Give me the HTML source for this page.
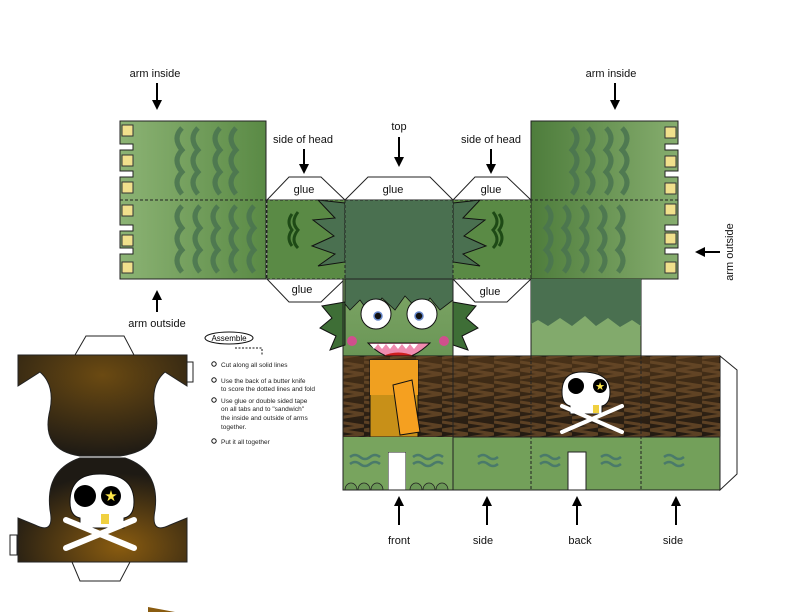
<!DOCTYPE html>
<html><head><meta charset="utf-8"><style>
html,body{margin:0;padding:0;background:#fff;}
svg{display:block;font-family:"Liberation Sans",sans-serif;}
</style></head><body>
<svg width="792" height="612" viewBox="0 0 792 612" xmlns="http://www.w3.org/2000/svg">
<defs>
<linearGradient id="arm" x1="0" x2="1" y1="0" y2="0"><stop offset="0" stop-color="#8cb374"/><stop offset="1" stop-color="#5a8a45"/></linearGradient>
<linearGradient id="armR" x1="0" x2="1" y1="0" y2="0"><stop offset="0" stop-color="#4e7d3c"/><stop offset="1" stop-color="#86ad6e"/></linearGradient>
<linearGradient id="face" x1="0" x2="0" y1="0" y2="1"><stop offset="0" stop-color="#7ea666"/><stop offset="1" stop-color="#6a9656"/></linearGradient>
<radialGradient id="hat" cx="0.5" cy="0.2" r="0.8"><stop offset="0" stop-color="#6b4a12"/><stop offset="1" stop-color="#1e1a14"/></radialGradient>
<radialGradient id="hat2" cx="0.6" cy="0.85" r="0.7"><stop offset="0" stop-color="#8a5c10"/><stop offset="1" stop-color="#1e1a14"/></radialGradient>
<linearGradient id="jk" x1="0" x2="0" y1="0" y2="1"><stop offset="0" stop-color="#4a3218"/><stop offset="1" stop-color="#221a12"/></linearGradient>
<pattern id="zig" width="26" height="20" patternUnits="userSpaceOnUse"><path d="M0 2 L26 6 L0 10 L26 14 L0 18" stroke="#6a4a28" stroke-width="3" fill="none"/></pattern>
<marker id="ah" markerUnits="userSpaceOnUse" markerWidth="10" markerHeight="10" refX="6" refY="5" orient="auto"><path d="M0 0 L10 5 L0 10z" fill="#000"/></marker>
</defs>

<!-- labels -->
<g font-size="11" fill="#111" text-anchor="middle">
<text x="155" y="77">arm inside</text>
<text x="611" y="77">arm inside</text>
<text x="303" y="143">side of head</text>
<text x="399" y="130">top</text>
<text x="491" y="143">side of head</text>
<text x="157" y="327">arm outside</text>
<text x="399" y="544">front</text>
<text x="483" y="544">side</text>
<text x="580" y="544">back</text>
<text x="673" y="544">side</text>
<text transform="translate(733,252) rotate(-90)">arm outside</text>
</g>
<g stroke="#000" stroke-width="2">
<line x1="157" y1="83" x2="157" y2="106" marker-end="url(#ah)"/>
<line x1="615" y1="83" x2="615" y2="106" marker-end="url(#ah)"/>
<line x1="304" y1="149" x2="304" y2="170" marker-end="url(#ah)"/>
<line x1="399" y1="137" x2="399" y2="163" marker-end="url(#ah)"/>
<line x1="491" y1="149" x2="491" y2="170" marker-end="url(#ah)"/>
<line x1="157" y1="312" x2="157" y2="294" marker-end="url(#ah)"/>
<line x1="720" y1="252" x2="699" y2="252" marker-end="url(#ah)"/>
<line x1="399" y1="525" x2="399" y2="500" marker-end="url(#ah)"/>
<line x1="487" y1="525" x2="487" y2="500" marker-end="url(#ah)"/>
<line x1="577" y1="525" x2="577" y2="500" marker-end="url(#ah)"/>
<line x1="676" y1="525" x2="676" y2="500" marker-end="url(#ah)"/>
</g>

<!-- glue tabs -->
<g fill="#fff" stroke="#222" stroke-width="1">
<path d="M267 200 L289 177 L321 177 L345 200z"/>
<path d="M345 200 L368 177 L430 177 L453 200z"/>
<path d="M453 200 L475 177 L507 177 L531 200z"/>
<path d="M267 279 L289 302 L321 302 L345 279z"/>
<path d="M453 279 L475 302 L507 302 L531 279z"/>
<path d="M720 356 L737 370 L737 474 L720 490z"/>
</g>
<g font-size="11" text-anchor="middle" fill="#111">
<text x="304" y="193">glue</text><text x="393" y="193">glue</text><text x="491" y="193">glue</text>
<text x="302" y="293">glue</text><text x="490" y="295">glue</text>
</g>

<!-- left arm -->
<path d="M120 121 L266 121 L266 279 L120 279 L120 254 L133 254 L133 248 L120 248 L120 231 L133 231 L133 225 L120 225 L120 177 L133 177 L133 171 L120 171 L120 150 L133 150 L133 144 L120 144z" fill="url(#arm)" stroke="#222"/>
<!-- right arm -->
<path d="M531 121 L678 121 L678 144 L665 144 L665 150 L678 150 L678 171 L665 171 L665 177 L678 177 L678 225 L665 225 L665 231 L678 231 L678 248 L665 248 L665 254 L678 254 L678 279 L531 279z" fill="url(#armR)" stroke="#222"/>
<g fill="#f0e08c" stroke="#333" stroke-width="1">
<rect x="122" y="125" width="11" height="11"/><rect x="122" y="155" width="11" height="11"/><rect x="122" y="182" width="11" height="11"/>
<rect x="122" y="205" width="11" height="11"/><rect x="122" y="235" width="11" height="11"/><rect x="122" y="262" width="11" height="11"/>
<rect x="665" y="127" width="11" height="11"/><rect x="665" y="156" width="11" height="11"/><rect x="665" y="183" width="11" height="11"/>
<rect x="665" y="204" width="11" height="11"/><rect x="665" y="233" width="11" height="11"/><rect x="665" y="262" width="11" height="11"/>
</g>
<g fill="none" stroke="#4a7450" stroke-width="5" opacity="0.85">
<path d="M182 128 q-10 10 0 22 q-10 10 0 22 q-10 10 0 22 M198 128 q-10 10 0 22 q-10 10 0 22 q-10 10 0 22 M220 128 q-10 10 0 22 q-10 10 0 22 q-10 10 0 22 M236 128 q-10 10 0 22 q-10 10 0 22 q-10 10 0 22"/>
<path d="M182 206 q-10 10 0 22 q-10 10 0 22 q-10 10 0 22 M200 206 q-10 10 0 22 q-10 10 0 22 q-10 10 0 22 M218 206 q-10 10 0 22 q-10 10 0 22 q-10 10 0 22 M236 206 q-10 10 0 22 q-10 10 0 22 q-10 10 0 22 M254 206 q-10 10 0 22 q-10 10 0 22 q-10 10 0 22"/>
<path d="M572 128 q10 10 0 22 q10 10 0 22 q10 10 0 22 M588 128 q10 10 0 22 q10 10 0 22 q10 10 0 22 M606 128 q10 10 0 22 q10 10 0 22 q10 10 0 22 M622 128 q10 10 0 22 q10 10 0 22 q10 10 0 22"/>
<path d="M546 206 q10 10 0 22 q10 10 0 22 q10 10 0 22 M564 206 q10 10 0 22 q10 10 0 22 q10 10 0 22 M582 206 q10 10 0 22 q10 10 0 22 q10 10 0 22 M600 206 q10 10 0 22 q10 10 0 22 q10 10 0 22 M618 206 q10 10 0 22 q10 10 0 22 q10 10 0 22"/>
</g>

<!-- side of head panels -->
<rect x="267" y="200" width="78" height="79" fill="#5a8a45"/>
<rect x="453" y="200" width="78" height="79" fill="#5a8a45"/>
<g fill="none" stroke="#1e4a16" stroke-width="3">
<path d="M298 212 q-8 10 0 18 q-8 10 0 18 M292 214 q-6 8 0 16 q-6 8 0 16"/>
<path d="M493 212 q8 10 0 18 q8 10 0 18 M499 214 q6 8 0 16 q6 8 0 16"/>
</g>
<!-- hair fringes -->
<g fill="#4a7050" stroke="#111" stroke-width="1">
<path d="M345 203 L318 200 L335 218 L313 220 L334 236 L312 246 L335 254 L318 266 L345 262z"/>
<path d="M453 203 L480 200 L463 218 L485 220 L464 236 L486 246 L463 254 L480 266 L453 262z"/>
</g>
<!-- top -->
<rect x="345" y="200" width="108" height="79" fill="#4a7050"/>

<!-- below right arm -->
<rect x="531" y="279" width="110" height="77" fill="#82aa6c" stroke="#222"/>
<path d="M531 279 L641 279 L641 326 L632 320 L620 327 L608 318 L596 326 L585 316 L572 326 L560 318 L548 326 L538 320 L531 324z" fill="#4a7050"/>

<!-- front face -->
<rect x="343" y="279" width="110" height="77" fill="url(#face)"/>
<g fill="#3e6e36" stroke="#111" stroke-width="1">
<path d="M345 302 L322 306 L332 318 L320 328 L336 336 L330 350 L345 345z"/>
<path d="M453 302 L476 306 L466 318 L478 328 L462 336 L468 350 L453 345z"/>
</g>
<path d="M345 279 L453 279 L453 300 L440 310 L430 298 L420 312 L405 296 L395 310 L382 298 L370 314 L360 300 L350 310 L345 304z" fill="#4a7050" stroke="#111" stroke-width="0.8"/>
<circle cx="376" cy="314" r="15" fill="#fff" stroke="#111"/><circle cx="422" cy="314" r="15" fill="#fff" stroke="#111"/>
<circle cx="378" cy="316" r="4" fill="#111" stroke="#6688cc" stroke-width="1.5"/><circle cx="419" cy="316" r="4" fill="#111" stroke="#6688cc" stroke-width="1.5"/>
<circle cx="352" cy="341" r="5" fill="#e83c9a" opacity="0.8"/><circle cx="444" cy="341" r="5" fill="#e83c9a" opacity="0.8"/>
<path d="M368 343 Q398 374 430 343z" fill="#f08cb0" stroke="#111"/>
<path d="M383 356 Q398 349 414 356 Q398 366 383 356z" fill="#d02020"/>
<path d="M370 344 l4 5 l4 -5 l4 5 l4 -5 l4 5 l4 -5 l4 5 l4 -5 l4 5 l4 -5 l4 5 l4 -5 l2 0z" fill="#fff"/>

<!-- jacket band -->
<rect x="343" y="356" width="377" height="81" fill="url(#jk)" stroke="#111"/>
<rect x="343" y="356" width="377" height="81" fill="url(#zig)" opacity="0.8"/>
<rect x="370" y="360" width="48" height="77" fill="#c89018" stroke="#111"/>
<path d="M370 360 L418 360 L418 395 L370 395z" fill="#f0a020"/>
<path d="M393 385 L412 380 L420 432 L400 435z" fill="#f5a020" stroke="#111"/>
<!-- skull back -->
<g>
<path d="M582 372 q-20 0 -20 20 q0 12 8 14 l0 8 l32 0 l0 -8 q8 -2 8 -14 q0 -20 -28 -20z" fill="#fff" stroke="#111"/>
<circle cx="576" cy="386" r="8" fill="#000"/><circle cx="600" cy="386" r="7" fill="#000"/>
<text x="600" y="390" font-size="11" fill="#ffe84a" text-anchor="middle">★</text>
<rect x="593" y="405" width="6" height="8" fill="#f0d040"/>
<g stroke="#fff" stroke-width="4" stroke-linecap="round"><line x1="562" y1="406" x2="622" y2="432"/><line x1="622" y1="406" x2="562" y2="432"/></g>
</g>

<!-- legs -->
<path d="M343 437 L720 437 L720 490 L406 490 L406 452 L388 452 L388 490 L343 490z" fill="#73a05a" stroke="#222"/>
<path d="M343 437 L453 437 L453 490 L406 490 L406 452 L388 452 L388 490 L343 490z" fill="#78a45e"/>
<path d="M568 452 L586 452 L586 490 L568 490z" fill="#fff" stroke="#222"/>
<g fill="none" stroke="#4a7a6a" stroke-width="2.5">
<path d="M350 457 q5 -4 10 0 q5 4 10 0 q5 -4 10 0 M350 464 q5 -4 10 0 q5 4 10 0 q5 -4 10 0"/>
<path d="M413 457 q5 -4 10 0 q5 4 10 0 q5 -4 10 0 M413 464 q5 -4 10 0 q5 4 10 0 q5 -4 10 0"/>
<path d="M478 457 q5 -4 10 0 q5 4 10 0 M478 464 q5 -4 10 0 q5 4 10 0"/>
<path d="M540 457 q5 -4 10 0 q5 4 10 0 M540 464 q5 -4 10 0 q5 4 10 0"/>
<path d="M601 457 q5 -4 10 0 q5 4 10 0 M601 464 q5 -4 10 0 q5 4 10 0"/>
<path d="M664 457 q5 -4 10 0 q5 4 10 0 M664 464 q5 -4 10 0 q5 4 10 0"/>
</g>
<g fill="#6a9656" stroke="#222" stroke-width="0.8">
<path d="M345 490 a6 7 0 0 1 12 0z M358 490 a6 7 0 0 1 12 0z M371 490 a6 7 0 0 1 12 0z M410 490 a6 7 0 0 1 12 0z M423 490 a6 7 0 0 1 12 0z M436 490 a6 7 0 0 1 12 0z"/>
</g>
<g stroke="#222" stroke-dasharray="3,2" fill="none">
<line x1="120" y1="200" x2="678" y2="200"/><line x1="267" y1="200" x2="267" y2="279"/><line x1="345" y1="200" x2="345" y2="279"/>
<line x1="453" y1="200" x2="453" y2="279"/><line x1="531" y1="200" x2="531" y2="279"/>
<line x1="267" y1="279" x2="345" y2="279"/><line x1="453" y1="279" x2="531" y2="279"/>
<line x1="453" y1="356" x2="453" y2="490"/><line x1="531" y1="356" x2="531" y2="490"/><line x1="641" y1="356" x2="641" y2="490"/>
</g>
<rect x="343" y="279" width="110" height="211" fill="none" stroke="#222"/>

<!-- left hat -->
<g stroke="#222">
<path d="M75 355 L86 336 L124 336 L134 355z" fill="#fff"/>
<path d="M72 562 L80 581 L120 581 L130 562z" fill="#fff"/>
<path d="M187 362 L193 362 L193 382 L187 382z" fill="#fff"/>
<path d="M10 535 L17 535 L17 555 L10 555z" fill="#fff"/>
<path d="M18 355 L187 355 L187 386 L165 372 Q150 385 155 410 Q165 450 120 456 L80 456 Q40 450 50 410 Q55 385 40 372 L18 386z" fill="url(#hat)"/>
<path d="M80 458 L125 458 Q160 470 155 510 Q150 535 170 525 L187 518 L187 562 L18 562 L18 518 L35 525 Q55 535 50 510 Q45 470 80 458z" fill="url(#hat2)"/>
</g>
<path d="M100 474 q-30 0 -30 28 q0 14 10 16 l0 10 l44 0 l0 -10 q10 -2 10 -16 q0 -28 -34 -28z" fill="#fff" stroke="#111"/>
<circle cx="85" cy="496" r="11" fill="#000"/><circle cx="111" cy="496" r="10" fill="#000"/>
<text x="111" y="501" font-size="15" fill="#ffe84a" text-anchor="middle">★</text>
<rect x="101" y="514" width="8" height="10" fill="#f0d040"/>
<g stroke="#fff" stroke-width="6" stroke-linecap="round"><line x1="66" y1="520" x2="134" y2="548"/><line x1="134" y1="520" x2="66" y2="548"/></g>
<path d="M148 612 L148 607 L175 612z" fill="#8a5c10"/>

<!-- instructions -->
<ellipse cx="229" cy="338" rx="24" ry="6" fill="#fff" stroke="#111"/>
<text x="229" y="341" font-size="8" text-anchor="middle">Assemble</text>
<path d="M235 348 L262 348 L262 355" stroke="#111" stroke-dasharray="2,1.5" fill="none"/>
<g font-size="6.5" fill="#222">
<circle cx="214" cy="364" r="2.2" fill="none" stroke="#111"/><text x="221" y="367">Cut along all solid lines</text>
<circle cx="214" cy="380" r="2.2" fill="none" stroke="#111"/><text x="221" y="383">Use the back of a butter knife</text><text x="221" y="391">to score the dotted lines and fold</text>
<circle cx="214" cy="400" r="2.2" fill="none" stroke="#111"/><text x="221" y="403">Use glue or double sided tape</text><text x="221" y="411">on all tabs and to "sandwich"</text><text x="221" y="420">the inside and outside of arms</text><text x="221" y="429">together.</text>
<circle cx="214" cy="441" r="2.2" fill="none" stroke="#111"/><text x="221" y="444">Put it all together</text>
</g>
</svg>
</body></html>
